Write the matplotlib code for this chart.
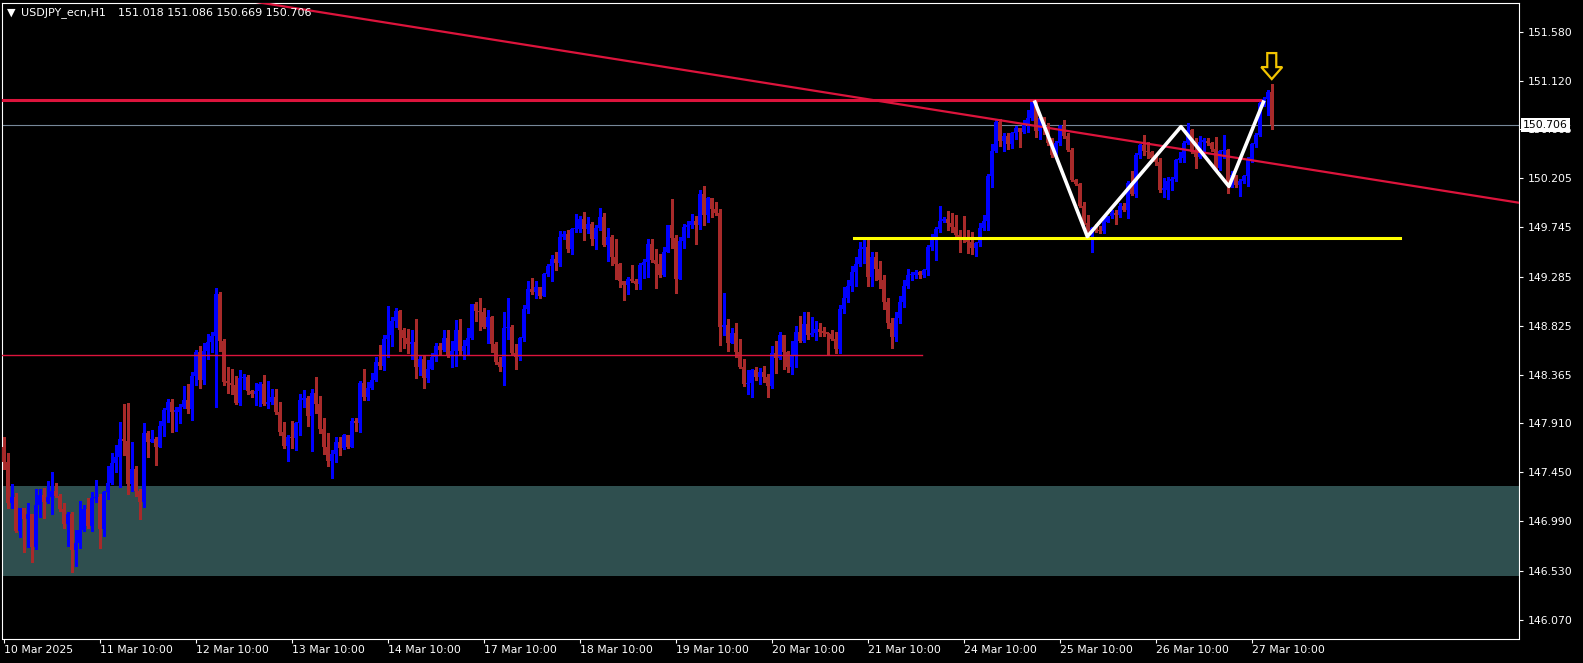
import matplotlib
matplotlib.use("Agg")
import matplotlib.pyplot as plt
import matplotlib.transforms as mtransforms
from matplotlib.patches import Polygon
import numpy as np

# USDJPY H1 candles, 10 Mar 10:00 .. 27 Mar 15:00 (one row per trading day)
first_open = 147.69
closes = [
    147.55, 147.16, 147.22, 146.90, 147.12, 147.01, 147.06, 146.75, 147.14, 147.24, 147.17, 147.22, 147.28, 147.23, 147.11, 146.97, 147.06, 146.72, 146.79, 146.91, 147.11, 146.95, 147.21, 147.22,
    146.92, 147.27, 147.35, 147.54, 147.59, 147.76, 147.74, 147.34, 147.48, 147.28, 147.17, 147.82, 147.73, 147.76, 147.69, 147.88, 148.03, 148.11, 148.02, 148.02, 148.06, 148.13, 148.04, 148.35,
    148.58, 148.32, 148.59, 148.67, 148.73, 149.12, 148.68, 148.30, 148.29, 148.27, 148.10, 148.33, 148.34, 148.21, 148.18, 148.21, 148.28, 148.09, 148.11, 148.16, 148.02, 147.83, 147.70, 147.78,
    147.77, 147.91, 148.13, 148.15, 147.98, 148.19, 148.09, 147.86, 147.69, 147.56, 147.62, 147.73, 147.68, 147.80, 147.69, 147.93, 147.91, 148.29, 148.16, 148.24, 148.32, 148.48, 148.45, 148.70,
    148.74, 148.87, 148.96, 148.78, 148.71, 148.65, 148.67, 148.44, 148.51, 148.33, 148.42, 148.53, 148.63, 148.60, 148.71, 148.55, 148.59, 148.78, 148.59, 148.63, 148.71, 149.03, 148.96, 148.95,
    148.81, 148.91, 148.65, 148.48, 148.44, 148.80, 148.81, 148.57, 148.53, 148.71, 148.98, 149.17, 149.14, 149.19, 149.10, 149.31, 149.38, 149.45, 149.41, 149.66, 149.68, 149.54, 149.73, 149.73,
    149.82, 149.73, 149.78, 149.64, 149.74, 149.84, 149.58, 149.66, 149.47, 149.40, 149.24, 149.21, 149.26, 149.24, 149.22, 149.39, 149.42, 149.59, 149.44, 149.40, 149.30, 149.52, 149.77, 149.65,
    149.26, 149.62, 149.75, 149.77, 149.81, 149.77, 150.06, 149.86, 150.02, 149.92, 149.88, 148.81, 148.83, 148.66, 148.76, 148.58, 148.44, 148.28, 148.29, 148.41, 148.34, 148.39, 148.34, 148.26,
    148.57, 148.52, 148.74, 148.58, 148.44, 148.54, 148.77, 148.68, 148.84, 148.74, 148.76, 148.79, 148.77, 148.76, 148.75, 148.70, 148.61, 148.98, 149.08, 149.20, 149.33, 149.40, 149.54, 149.56,
    149.28, 149.47, 149.36, 149.25, 149.05, 148.85, 148.72, 148.90, 149.05, 149.20, 149.30, 149.30, 149.33, 149.30, 149.35, 149.56, 149.64, 149.73, 149.81, 149.82, 149.79, 149.75, 149.67, 149.66,
    149.63, 149.61, 149.55, 149.60, 149.74, 149.81, 150.23, 150.46, 150.73, 150.56, 150.60, 150.53, 150.63, 150.68, 150.64, 150.71, 150.77, 150.92, 150.65, 150.77, 150.69, 150.54, 150.42, 150.54,
    150.70, 150.60, 150.47, 150.19, 150.15, 149.95, 149.79, 149.70, 149.74, 149.72, 149.71, 149.80, 149.85, 149.88, 149.86, 149.95, 149.91, 150.16, 150.06, 150.42, 150.52, 150.46, 150.45, 150.40,
    150.36, 150.10, 150.10, 150.18, 150.20, 150.38, 150.40, 150.54, 150.66, 150.45, 150.41, 150.55, 150.56, 150.54, 150.48, 150.30, 150.46, 150.47, 150.13, 150.24, 150.14, 150.18, 150.23, 150.38,
    150.53, 150.61, 150.91, 150.95, 151.018, 150.706,
]
highs = [
    147.78, 147.63, 147.34, 147.26, 147.12, 147.12, 147.16, 147.06, 147.29, 147.29, 147.30, 147.37, 147.45, 147.35, 147.25, 147.16, 147.08, 147.08, 146.91, 147.18, 147.14, 147.21, 147.27, 147.38,
    147.25, 147.28, 147.51, 147.63, 147.71, 147.92, 148.09, 148.10, 147.73, 147.51, 147.29, 147.91, 147.84, 147.85, 147.78, 147.93, 148.05, 148.14, 148.14, 148.06, 148.09, 148.26, 148.28, 148.39,
    148.60, 148.63, 148.66, 148.75, 148.77, 149.18, 149.14, 148.70, 148.44, 148.42, 148.35, 148.41, 148.37, 148.36, 148.22, 148.29, 148.30, 148.36, 148.31, 148.23, 148.23, 148.11, 147.92, 147.80,
    147.93, 147.92, 148.18, 148.22, 148.17, 148.23, 148.34, 148.17, 147.96, 147.82, 147.66, 147.78, 147.78, 147.81, 147.77, 147.96, 147.96, 148.31, 148.42, 148.30, 148.38, 148.53, 148.64, 148.74,
    149.01, 148.91, 148.99, 148.97, 148.80, 148.79, 148.78, 148.89, 148.55, 148.55, 148.50, 148.57, 148.66, 148.66, 148.78, 148.78, 148.68, 148.88, 148.89, 148.69, 148.80, 149.03, 149.05, 149.08,
    148.99, 148.97, 148.92, 148.67, 148.53, 148.95, 149.08, 148.83, 148.65, 148.72, 149.02, 149.24, 149.27, 149.24, 149.19, 149.32, 149.40, 149.49, 149.52, 149.71, 149.71, 149.72, 149.74, 149.87,
    149.85, 149.89, 149.84, 149.80, 149.77, 149.93, 149.88, 149.74, 149.67, 149.64, 149.41, 149.24, 149.28, 149.39, 149.26, 149.41, 149.45, 149.64, 149.64, 149.54, 149.50, 149.56, 149.77, 150.01,
    149.67, 149.66, 149.78, 149.81, 149.87, 149.85, 150.10, 150.13, 150.03, 150.02, 149.98, 149.92, 149.13, 148.89, 148.80, 148.85, 148.70, 148.51, 148.41, 148.42, 148.44, 148.43, 148.45, 148.37,
    148.63, 148.68, 148.77, 148.74, 148.59, 148.68, 148.82, 148.92, 148.95, 148.95, 148.91, 148.87, 148.85, 148.81, 148.76, 148.78, 148.77, 149.02, 149.19, 149.25, 149.38, 149.47, 149.61, 149.63,
    149.63, 149.52, 149.52, 149.43, 149.30, 149.08, 148.90, 148.95, 149.10, 149.25, 149.36, 149.33, 149.35, 149.34, 149.36, 149.58, 149.68, 149.75, 149.95, 149.84, 149.90, 149.88, 149.86, 149.72,
    149.85, 149.72, 149.70, 149.61, 149.79, 149.86, 150.25, 150.53, 150.76, 150.76, 150.63, 150.63, 150.64, 150.70, 150.68, 150.75, 150.85, 150.93, 150.92, 150.78, 150.78, 150.72, 150.58, 150.56,
    150.71, 150.75, 150.63, 150.49, 150.20, 150.16, 149.98, 149.86, 149.75, 149.78, 149.76, 149.83, 149.85, 149.91, 149.91, 149.97, 149.97, 150.18, 150.27, 150.44, 150.53, 150.61, 150.55, 150.46,
    150.42, 150.40, 150.21, 150.22, 150.22, 150.39, 150.45, 150.56, 150.72, 150.67, 150.58, 150.60, 150.58, 150.58, 150.55, 150.59, 150.47, 150.61, 150.48, 150.27, 150.24, 150.20, 150.24, 150.41,
    150.54, 150.63, 150.95, 150.97, 151.03, 151.086,
]
lows = [
    147.48, 147.12, 147.12, 146.89, 146.84, 146.70, 146.75, 146.61, 146.73, 147.03, 147.02, 147.16, 147.06, 147.22, 147.09, 146.93, 146.76, 146.52, 146.57, 146.74, 146.90, 146.93, 146.90, 147.17,
    146.74, 146.85, 147.20, 147.34, 147.45, 147.31, 147.61, 147.25, 147.28, 147.23, 147.01, 147.13, 147.59, 147.73, 147.52, 147.69, 147.79, 147.92, 147.83, 147.84, 147.91, 148.05, 148.01, 147.94,
    148.27, 148.24, 148.28, 148.51, 148.58, 148.06, 148.59, 148.27, 148.19, 148.18, 148.09, 148.08, 148.23, 148.18, 148.16, 148.08, 148.07, 148.08, 148.05, 148.09, 148.00, 147.80, 147.68, 147.56,
    147.68, 147.66, 147.80, 148.06, 147.88, 147.65, 148.01, 147.82, 147.62, 147.51, 147.40, 147.55, 147.61, 147.67, 147.68, 147.69, 147.84, 147.83, 148.13, 148.13, 148.23, 148.31, 148.42, 148.41,
    148.53, 148.63, 148.81, 148.59, 148.62, 148.57, 148.51, 148.33, 148.36, 148.24, 148.30, 148.42, 148.49, 148.55, 148.59, 148.53, 148.44, 148.45, 148.55, 148.51, 148.55, 148.70, 148.87, 148.78,
    148.80, 148.66, 148.58, 148.47, 148.40, 148.27, 148.70, 148.56, 148.42, 148.50, 148.68, 148.94, 149.12, 149.08, 149.08, 149.10, 149.29, 149.24, 149.35, 149.38, 149.64, 149.52, 149.50, 149.70,
    149.70, 149.63, 149.69, 149.58, 149.54, 149.72, 149.57, 149.43, 149.39, 149.26, 149.19, 149.07, 149.12, 149.23, 149.17, 149.17, 149.27, 149.28, 149.42, 149.18, 149.28, 149.29, 149.52, 149.55,
    149.13, 149.26, 149.55, 149.66, 149.74, 149.59, 149.73, 149.77, 149.80, 149.84, 149.86, 148.64, 148.74, 148.59, 148.66, 148.53, 148.43, 148.26, 148.18, 148.16, 148.32, 148.28, 148.30, 148.16,
    148.24, 148.38, 148.51, 148.42, 148.39, 148.37, 148.44, 148.67, 148.67, 148.70, 148.73, 148.69, 148.73, 148.73, 148.56, 148.69, 148.57, 148.57, 148.94, 149.05, 149.15, 149.20, 149.38, 149.41,
    149.20, 149.20, 149.25, 149.18, 148.98, 148.80, 148.62, 148.68, 148.85, 149.00, 149.18, 149.25, 149.27, 149.27, 149.28, 149.30, 149.53, 149.44, 149.70, 149.80, 149.72, 149.70, 149.66, 149.52,
    149.61, 149.51, 149.50, 149.48, 149.57, 149.72, 149.72, 150.12, 150.45, 150.51, 150.46, 150.48, 150.49, 150.57, 150.50, 150.63, 150.64, 150.75, 150.59, 150.57, 150.62, 150.52, 150.41, 150.40,
    150.52, 150.58, 150.46, 150.18, 150.14, 149.94, 149.78, 149.69, 149.52, 149.70, 149.69, 149.69, 149.80, 149.83, 149.78, 149.84, 149.90, 149.83, 150.05, 150.03, 150.40, 150.42, 150.40, 150.37,
    150.33, 150.08, 150.03, 150.01, 150.10, 150.18, 150.36, 150.36, 150.53, 150.44, 150.30, 150.40, 150.44, 150.52, 150.46, 150.29, 150.28, 150.40, 150.07, 150.12, 150.12, 150.04, 150.16, 150.13,
    150.36, 150.50, 150.60, 150.88, 150.80, 150.669,
]

xtick_labels = ["10 Mar 2025", "11 Mar 10:00", "12 Mar 10:00", "13 Mar 10:00", "14 Mar 10:00",
                "17 Mar 10:00", "18 Mar 10:00", "19 Mar 10:00", "20 Mar 10:00", "21 Mar 10:00",
                "24 Mar 10:00", "25 Mar 10:00", "26 Mar 10:00", "27 Mar 10:00"]
ytick_vals = [151.580, 151.120, 150.665, 150.205, 149.745, 149.285, 148.825,
              148.365, 147.910, 147.450, 146.990, 146.530, 146.070]

# drawn objects (bar index, price)
zone_low, zone_high = 146.479, 147.322
res_level, res_end = 150.94, 314.0
sup_level, sup_end = 148.547, 229.6
yel_level, yel_start, yel_end = 149.645, 212.6, 349.0
trend_x = [0.0, 378.8]
trend_y = [152.235, 149.977]
zz_x = [257.8, 270.9, 294.3, 306.3, 314.9]
zz_y = [150.92, 149.66, 150.69, 150.13, 150.92]

BULL = "#0000FF"
BEAR = "#A82A2A"
CRIMSON = "#DC143C"

fig = plt.figure(figsize=(15.83, 6.63), dpi=100, facecolor="black")
ax = fig.add_axes([2 / 1583, 24.5 / 663, 1517 / 1583, 635.5 / 663], facecolor="black")

c = np.array(closes)
o = np.array([first_open] + closes[:-1])
h = np.maximum(np.array(highs), np.maximum(o, c))
l = np.minimum(np.array(lows), np.minimum(o, c))
x = np.arange(len(c))
colors = np.where(c >= o, BULL, BEAR)

# background zone and bid line
ax.axhspan(zone_low, zone_high, color="#2F4F4F", lw=0, zorder=0)
ax.axhline(c[-1], color="#778899", lw=0.8, zorder=1)

# candles
ax.vlines(x, l, h, colors=colors, lw=0.8, zorder=2, antialiased=False)
ax.bar(x, np.maximum(np.abs(c - o), 0.012), bottom=np.minimum(o, c), width=0.75,
       color=colors, lw=0, zorder=3)

# chart objects
ax.plot([-0.4, res_end], [res_level, res_level], color=CRIMSON, lw=2.2, zorder=4)
ax.plot([-0.4, sup_end], [sup_level, sup_level], color=CRIMSON, lw=1.0, zorder=4)
ax.plot(trend_x, trend_y, color=CRIMSON, lw=1.6, zorder=4)
ax.plot([yel_start, yel_end], [yel_level, yel_level], color="#FFFF00", lw=2.2, zorder=4)
ax.plot(zz_x, zz_y, color="white", lw=2.6, zorder=5)

# down arrow above the last candle (shape in pixels, 4 px per bar)
tip_x, tip_y = x[-1], h[-1] + 0.05
shape = [(0, 0), (10.5, 12), (4.5, 12), (4.5, 26), (-4.5, 26), (-4.5, 12), (-10.5, 12)]
pts = [(tip_x + dx / 4, tip_y + dy / 106.7) for dx, dy in shape]
ax.add_patch(Polygon(pts, closed=True, fc="black", ec="#F2C400", lw=1.6, zorder=6))

ax.set_xlim(-0.4, 378.8)
ax.set_ylim(145.893, 151.849)

for s in ax.spines.values():
    s.set_color("white")
    s.set_linewidth(0.8)

ax.yaxis.tick_right()
ax.set_yticks(ytick_vals)
ax.set_yticklabels([f"{v:.3f}" for v in ytick_vals])
ax.tick_params(axis="y", colors="white", labelsize=7.8, length=3, width=0.8, pad=3.3)
ax.set_xticks([24 * k for k in range(len(xtick_labels))])
ax.set_xticklabels(xtick_labels, ha="left")
ax.tick_params(axis="x", colors="white", labelsize=7.8, length=3, width=0.8, pad=2)

# current price box on the scale
trans = mtransforms.blended_transform_factory(ax.transAxes, ax.transData)
ax.text(1.0028, c[-1], f"{c[-1]:.3f}", transform=trans, ha="left", va="center",
        fontsize=7.8, color="black", clip_on=False, zorder=10,
        bbox=dict(boxstyle="square,pad=0.2", fc="white", ec="none"))

# header
fig.text(7 / 1583, 1 - 12.5 / 663, "\u25bc", color="white", fontsize=8, va="center")
fig.text(21 / 1583, 1 - 12.5 / 663, "USDJPY_ecn,H1", color="white", fontsize=8, va="center")
fig.text(118 / 1583, 1 - 12.5 / 663, f"{o[-1]:.3f} {h[-1]:.3f} {l[-1]:.3f} {c[-1]:.3f}",
         color="white", fontsize=8, va="center")

fig.savefig("out.png", dpi=100, facecolor="black")
